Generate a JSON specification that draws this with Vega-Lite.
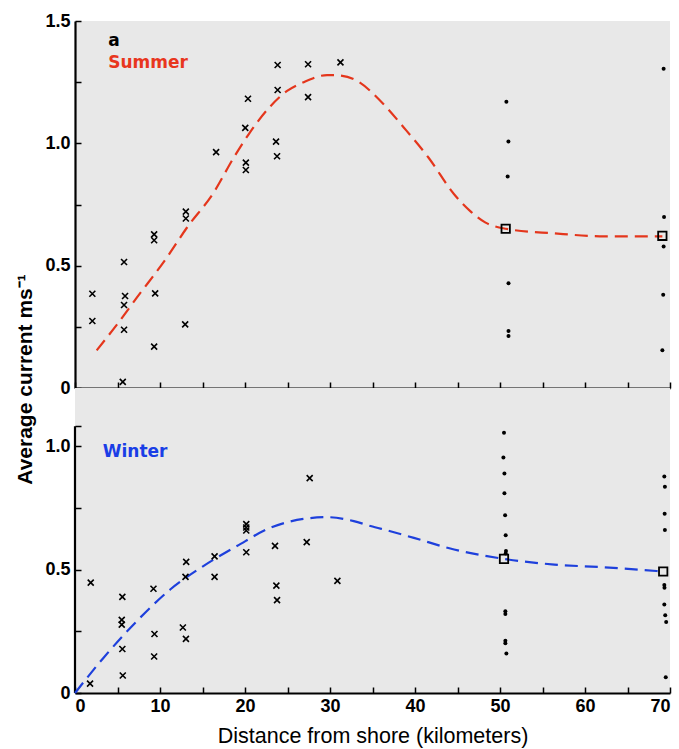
{
  "$schema": "https://vega.github.io/schema/vega-lite/v6.json",
  "padding": {"left": 14, "top": 12, "right": 8, "bottom": 4},
  "background": "white",
  "spacing": 0,
  "bounds": "flush",
  "config": {
    "view": {"stroke": null, "fill": "#e8e8e8"},
    "axis": {
      "grid": false,
      "domainColor": "black",
      "domainWidth": 2.2,
      "tickColor": "black",
      "tickWidth": 1.5,
      "tickSize": -6,
      "labelFont": "Liberation Sans",
      "labelFontWeight": "bold",
      "labelFontSize": 18,
      "labelColor": "black",
      "titleColor": "black"
    }
  },
  "datasets": {
    "summer": [
      {"km": 2.04, "v": 0.385, "kind": "cross"}, {"km": 2.04, "v": 0.274, "kind": "cross"},
      {"km": 5.77, "v": 0.515, "kind": "cross"}, {"km": 5.89, "v": 0.376, "kind": "cross"},
      {"km": 5.77, "v": 0.339, "kind": "cross"}, {"km": 5.77, "v": 0.238, "kind": "cross"},
      {"km": 5.62, "v": 0.025, "kind": "cross"}, {"km": 9.31, "v": 0.628, "kind": "cross"},
      {"km": 9.31, "v": 0.604, "kind": "cross"}, {"km": 9.43, "v": 0.387, "kind": "cross"},
      {"km": 9.31, "v": 0.169, "kind": "cross"}, {"km": 13.04, "v": 0.721, "kind": "cross"},
      {"km": 13.04, "v": 0.693, "kind": "cross"}, {"km": 12.96, "v": 0.26, "kind": "cross"},
      {"km": 16.6, "v": 0.964, "kind": "cross"}, {"km": 20.03, "v": 1.063, "kind": "cross"},
      {"km": 20.35, "v": 1.182, "kind": "cross"}, {"km": 20.1, "v": 0.921, "kind": "cross"},
      {"km": 20.1, "v": 0.891, "kind": "cross"}, {"km": 23.65, "v": 1.007, "kind": "cross"},
      {"km": 23.77, "v": 0.947, "kind": "cross"}, {"km": 23.84, "v": 1.218, "kind": "cross"},
      {"km": 23.84, "v": 1.32, "kind": "cross"}, {"km": 27.42, "v": 1.323, "kind": "cross"},
      {"km": 27.42, "v": 1.189, "kind": "cross"}, {"km": 31.23, "v": 1.331, "kind": "cross"},
      {"km": 50.75, "v": 1.17, "kind": "dot"}, {"km": 50.99, "v": 1.007, "kind": "dot"},
      {"km": 50.9, "v": 0.864, "kind": "dot"}, {"km": 51.0, "v": 0.428, "kind": "dot"},
      {"km": 51.0, "v": 0.233, "kind": "dot"}, {"km": 51.0, "v": 0.213, "kind": "dot"},
      {"km": 69.25, "v": 1.305, "kind": "dot"}, {"km": 69.3, "v": 0.699, "kind": "dot"},
      {"km": 69.25, "v": 0.578, "kind": "dot"}, {"km": 69.2, "v": 0.381, "kind": "dot"},
      {"km": 69.1, "v": 0.154, "kind": "dot"},
      {"km": 50.67, "v": 0.651, "kind": "mean"}, {"km": 69.1, "v": 0.622, "kind": "mean"}
    ],
    "summerCurve": [
      {"km": 2.55, "v": 0.154}, {"km": 5, "v": 0.262}, {"km": 7.27, "v": 0.369},
      {"km": 10.8, "v": 0.533}, {"km": 13.16, "v": 0.655}, {"km": 16.3, "v": 0.798},
      {"km": 18.66, "v": 0.941}, {"km": 20.43, "v": 1.037}, {"km": 23.0, "v": 1.152},
      {"km": 24.95, "v": 1.214}, {"km": 26.9, "v": 1.25}, {"km": 29.66, "v": 1.279},
      {"km": 30.8, "v": 1.278}, {"km": 33.2, "v": 1.255}, {"km": 35.94, "v": 1.173},
      {"km": 38.7, "v": 1.064}, {"km": 41.6, "v": 0.941}, {"km": 44.6, "v": 0.792},
      {"km": 46.5, "v": 0.723}, {"km": 48.3, "v": 0.676}, {"km": 50.67, "v": 0.651},
      {"km": 56.4, "v": 0.632}, {"km": 62.3, "v": 0.62}, {"km": 69.1, "v": 0.62}
    ],
    "winter": [
      {"km": 1.85, "v": 0.447, "kind": "cross"}, {"km": 1.77, "v": 0.038, "kind": "cross"},
      {"km": 5.57, "v": 0.389, "kind": "cross"}, {"km": 5.5, "v": 0.296, "kind": "cross"},
      {"km": 5.5, "v": 0.277, "kind": "cross"}, {"km": 5.57, "v": 0.178, "kind": "cross"},
      {"km": 5.62, "v": 0.071, "kind": "cross"}, {"km": 9.23, "v": 0.422, "kind": "cross"},
      {"km": 9.35, "v": 0.239, "kind": "cross"}, {"km": 9.31, "v": 0.148, "kind": "cross"},
      {"km": 13.08, "v": 0.531, "kind": "cross"}, {"km": 13.0, "v": 0.47, "kind": "cross"},
      {"km": 12.69, "v": 0.265, "kind": "cross"}, {"km": 13.05, "v": 0.219, "kind": "cross"},
      {"km": 16.42, "v": 0.553, "kind": "cross"}, {"km": 16.42, "v": 0.47, "kind": "cross"},
      {"km": 20.15, "v": 0.684, "kind": "cross"}, {"km": 20.15, "v": 0.67, "kind": "cross"},
      {"km": 20.15, "v": 0.658, "kind": "cross"}, {"km": 20.15, "v": 0.57, "kind": "cross"},
      {"km": 23.53, "v": 0.596, "kind": "cross"}, {"km": 23.69, "v": 0.435, "kind": "cross"},
      {"km": 23.77, "v": 0.376, "kind": "cross"}, {"km": 27.26, "v": 0.611, "kind": "cross"},
      {"km": 27.61, "v": 0.87, "kind": "cross"}, {"km": 30.87, "v": 0.454, "kind": "cross"},
      {"km": 50.47, "v": 1.054, "kind": "dot"}, {"km": 50.4, "v": 0.954, "kind": "dot"},
      {"km": 50.52, "v": 0.889, "kind": "dot"}, {"km": 50.52, "v": 0.809, "kind": "dot"},
      {"km": 50.6, "v": 0.72, "kind": "dot"}, {"km": 50.67, "v": 0.639, "kind": "dot"},
      {"km": 50.67, "v": 0.565, "kind": "dot"}, {"km": 50.7, "v": 0.575, "kind": "dot"},
      {"km": 50.63, "v": 0.331, "kind": "dot"}, {"km": 50.63, "v": 0.32, "kind": "dot"},
      {"km": 50.63, "v": 0.212, "kind": "dot"}, {"km": 50.63, "v": 0.201, "kind": "dot"},
      {"km": 50.75, "v": 0.16, "kind": "dot"},
      {"km": 69.33, "v": 0.877, "kind": "dot"}, {"km": 69.4, "v": 0.835, "kind": "dot"},
      {"km": 69.37, "v": 0.726, "kind": "dot"}, {"km": 69.4, "v": 0.66, "kind": "dot"},
      {"km": 69.33, "v": 0.437, "kind": "dot"}, {"km": 69.35, "v": 0.426, "kind": "dot"},
      {"km": 69.33, "v": 0.358, "kind": "dot"}, {"km": 69.44, "v": 0.315, "kind": "dot"},
      {"km": 69.55, "v": 0.287, "kind": "dot"}, {"km": 69.5, "v": 0.064, "kind": "dot"},
      {"km": 50.47, "v": 0.543, "kind": "mean"}, {"km": 69.2, "v": 0.492, "kind": "mean"}
    ],
    "winterCurve": [
      {"km": 0, "v": 0}, {"km": 3.34, "v": 0.142}, {"km": 7.27, "v": 0.291},
      {"km": 11.2, "v": 0.419}, {"km": 15.1, "v": 0.514}, {"km": 19.05, "v": 0.595},
      {"km": 22.97, "v": 0.669}, {"km": 26.9, "v": 0.705}, {"km": 29.66, "v": 0.712},
      {"km": 32.8, "v": 0.696}, {"km": 34.76, "v": 0.676}, {"km": 37.1, "v": 0.655},
      {"km": 39.87, "v": 0.628}, {"km": 44.6, "v": 0.581}, {"km": 50.47, "v": 0.543},
      {"km": 56.4, "v": 0.52}, {"km": 62.26, "v": 0.509}, {"km": 69.2, "v": 0.492}
    ],
    "notes": [
      {"panel": "summer", "note": "a", "km": 3.9, "v": 1.418},
      {"panel": "summer", "note": "Summer", "km": 3.9, "v": 1.327},
      {"panel": "winter", "note": "Winter", "km": 3.26, "v": 0.976}
    ],
    "axisLine": [
      {"km": 0, "v": 0, "v2": 1.08}
    ]
  },
  "vconcat": [
    {
      "width": 595,
      "height": 367,
      "encoding": {
        "x": {"field": "km", "type": "quantitative", "scale": {"domain": [0, 70], "nice": false},
          "axis": {"values": [0,5,10,15,20,25,30,35,40,45,50,55,60,65,70], "labels": false, "title": null}},
        "y": {"field": "v", "type": "quantitative", "scale": {"domain": [0, 1.5], "nice": false},
          "axis": {"values": [0,0.25,0.5,0.75,1,1.25,1.5], "labelPadding": 11,
            "labelExpr": "datum.value == 0 ? '0' : (datum.value % 0.5 == 0 ? format(datum.value, '.1f') : '')",
            "title": "Average current ms⁻¹", "titleFont": "Liberation Sans", "titleFontWeight": "bold",
            "titleFontSize": 21, "titleX": -40, "titleY": 358, "titleAlign": "center", "titleBaseline": "bottom", "titleAngle": -90}}
      },
      "layer": [
        {"data": {"name": "summerCurve"}, "mark": {"type": "line", "color": "#e4361c", "strokeWidth": 2.2, "strokeDash": [13, 7], "interpolate": "monotone"}},
        {"data": {"name": "summer"}, "transform": [{"filter": "datum.kind == 'cross'"}],
          "mark": {"type": "point", "shape": "M-1,-1L1,1M1,-1L-1,1", "size": 36, "stroke": "black", "strokeWidth": 1.6, "filled": false, "opacity": 1}},
        {"data": {"name": "summer"}, "transform": [{"filter": "datum.kind == 'dot'"}],
          "mark": {"type": "circle", "size": 16, "color": "black", "opacity": 1}},
        {"data": {"name": "summer"}, "transform": [{"filter": "datum.kind == 'mean'"}],
          "mark": {"type": "point", "shape": "square", "size": 70, "stroke": "black", "strokeWidth": 1.8, "filled": false, "opacity": 1}},
        {"data": {"name": "notes"}, "transform": [{"filter": "datum.panel == 'summer'"}],
          "mark": {"type": "text", "align": "left", "baseline": "middle", "font": "DejaVu Sans", "fontWeight": "bold", "fontSize": 17},
          "encoding": {"text": {"field": "note"},
            "color": {"field": "note", "type": "nominal", "scale": {"domain": ["a", "Summer"], "range": ["black", "#e8361e"]}, "legend": null}}}
      ]
    },
    {
      "width": 595,
      "height": 305,
      "encoding": {
        "x": {"field": "km", "type": "quantitative", "scale": {"domain": [0, 70], "nice": false},
          "axis": {"values": [0,5,10,15,20,25,30,35,40,45,50,55,60,65,70], "labelPadding": 10,
            "labelExpr": "datum.value % 10 == 0 ? datum.label : ''",
            "title": "Distance from shore (kilometers)", "titleFont": "Liberation Sans", "titleFontWeight": "normal",
            "titleFontSize": 21.5, "titlePadding": 10}},
        "y": {"field": "v", "type": "quantitative", "scale": {"domain": [0, 1.235], "nice": false},
          "axis": {"values": [0,0.25,0.5,0.75,1,1.08], "domain": false, "labelPadding": 11,
            "labelExpr": "datum.value == 0 ? '0' : (datum.value % 0.5 == 0 ? format(datum.value, '.1f') : '')",
            "title": null}}
      },
      "layer": [
        {"data": {"name": "axisLine"}, "mark": {"type": "rule", "color": "black", "strokeWidth": 2.2},
          "encoding": {"y2": {"field": "v2"}}},
        {"data": {"name": "winterCurve"}, "mark": {"type": "line", "color": "#1e40dc", "strokeWidth": 2.2, "strokeDash": [13, 7], "interpolate": "monotone"}},
        {"data": {"name": "winter"}, "transform": [{"filter": "datum.kind == 'cross'"}],
          "mark": {"type": "point", "shape": "M-1,-1L1,1M1,-1L-1,1", "size": 36, "stroke": "black", "strokeWidth": 1.6, "filled": false, "opacity": 1}},
        {"data": {"name": "winter"}, "transform": [{"filter": "datum.kind == 'dot'"}],
          "mark": {"type": "circle", "size": 16, "color": "black", "opacity": 1}},
        {"data": {"name": "winter"}, "transform": [{"filter": "datum.kind == 'mean'"}],
          "mark": {"type": "point", "shape": "square", "size": 70, "stroke": "black", "strokeWidth": 1.8, "filled": false, "opacity": 1}},
        {"data": {"name": "notes"}, "transform": [{"filter": "datum.panel == 'winter'"}],
          "mark": {"type": "text", "align": "left", "baseline": "middle", "font": "DejaVu Sans", "fontWeight": "bold", "fontSize": 17, "color": "#1a3ee6"},
          "encoding": {"text": {"field": "note"}}}
      ]
    }
  ]
}
